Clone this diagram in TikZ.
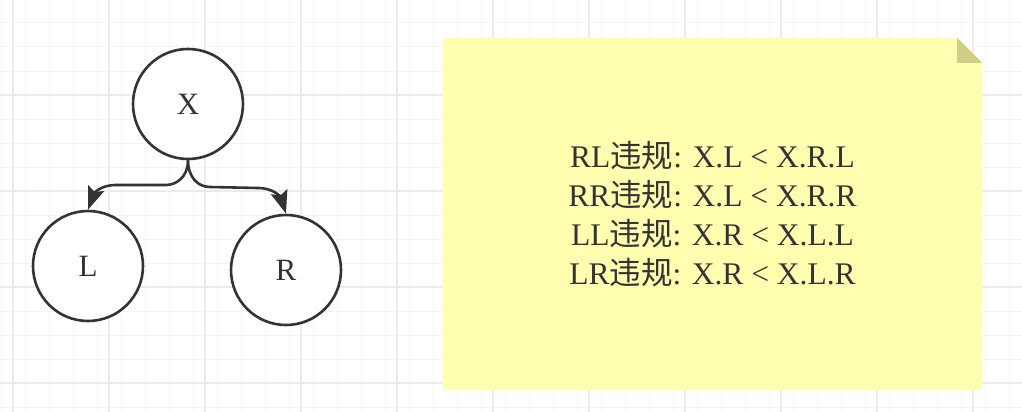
\documentclass[tikz,border=0pt]{standalone}
\usepackage{fontspec}
\setmainfont{Liberation Serif}
\newfontfamily\cjk{Noto Sans CJK SC}
\usetikzlibrary{arrows.meta}
\definecolor{inkgray}{HTML}{333333}
\definecolor{notefill}{HTML}{FFFFAF}
\definecolor{foldfill}{HTML}{CFCD86}
\definecolor{gridminor}{HTML}{F4F4F4}
\definecolor{gridmajor}{HTML}{EBEBEB}
\tikzset{
  treenode/.style={draw=inkgray, circle, line width=2.6pt, fill=white, minimum size=110pt, inner sep=0pt, text=inkgray, font=\fontsize{31}{39}\selectfont},
  link/.style={draw=inkgray, line width=2.6pt, -{Stealth[length=23pt,width=17pt,inset=4pt]}},
  notebox/.style={minimum width=539pt, minimum height=352pt, align=center, text=inkgray, font=\fontsize{31.5}{39}\selectfont}
}
\pgfdeclarelayer{background}
\pgfsetlayers{background,main}
\newcommand{\wg}{{\cjk 违规}}

\begin{document}
\begin{tikzpicture}[x=1pt, y=-1pt]
    \useasboundingbox (0,0) rectangle (1022,412);
    % Place nodes
    \node [treenode] (x) at (188,104) {X};
    \node [treenode] (l) at (88,266) {L};
    \node [treenode] (r) at (286,270) {R};
    \node [notebox] (note) at (712.5,214) {RL\wg: X.L < X.R.L\\RR\wg: X.L < X.R.R\\LL\wg: X.R < X.L.L\\LR\wg: X.R < X.L.R};
    \coordinate (forkl) at (166,185);
    \coordinate (bendl) at (116,185);
    \coordinate (forkr) at (210,187);
    \coordinate (bendr) at (258,188);
    \begin{pgfonlayer}{background}
        % Grid
        \fill[white] (0,0) rectangle (1022,412);
        \foreach \gx in {1,25,...,1021} \draw[gridminor, line width=1pt] (\gx,0) -- (\gx,412);
        \foreach \gy in {-1,23,...,411} \draw[gridminor, line width=1pt] (0,\gy) -- (1022,\gy);
        \foreach \gx in {13,109,...,1021} \draw[gridmajor, line width=1.4pt] (\gx,0) -- (\gx,412);
        \foreach \gy in {95,191,...,411} \draw[gridmajor, line width=1.4pt] (0,\gy) -- (1022,\gy);
        % Note
        \fill[notefill] (note.north west) -- ([xshift=-25pt]note.north east) -- ([yshift=-25pt]note.north east) -- (note.south east) -- (note.south west) -- cycle;
        \fill[foldfill] ([xshift=-25pt]note.north east) -- ([xshift=-25pt,yshift=-25pt]note.north east) -- ([yshift=-25pt]note.north east) -- cycle;
    \end{pgfonlayer}
    % Draw edges
    \path [link] (x.south) .. controls ([yshift=-17pt]x.south) and ([xshift=10pt]forkl) .. (forkl) -- (bendl) .. controls ([xshift=-16pt]bendl) and ([xshift=6pt,yshift=16pt]l.north) .. (l.north);
    \path [link] (x.south) .. controls ([yshift=-17pt]x.south) and ([xshift=-12pt]forkr) .. (forkr) -- (bendr) .. controls ([xshift=16pt]bendr) and ([xshift=-5pt,yshift=16pt]r.north) .. (r.north);
\end{tikzpicture}
\end{document}
